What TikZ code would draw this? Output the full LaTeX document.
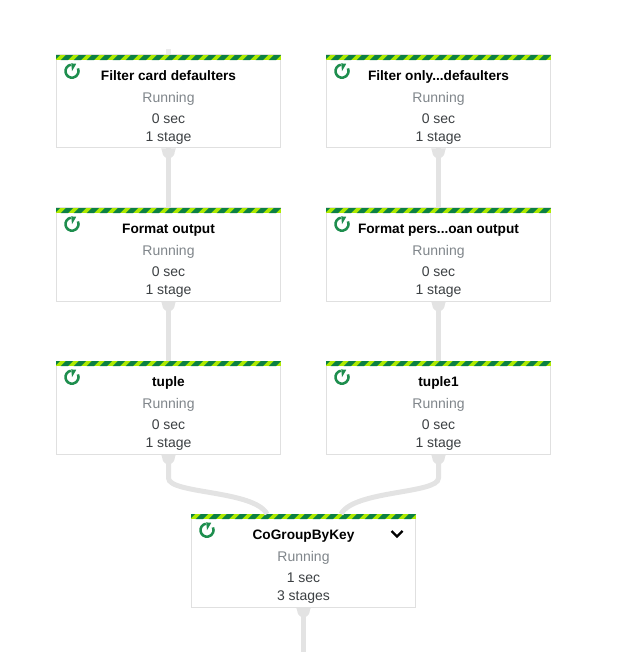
\documentclass[tikz,border=0pt]{standalone}
\usepackage{fontspec}
\setmainfont{Liberation Sans}
\definecolor{stripedark}{HTML}{0B8043}
\definecolor{stripelime}{HTML}{AEEA00}
\definecolor{edgegray}{HTML}{E3E3E3}
\definecolor{boxline}{HTML}{E0E0E0}
\definecolor{iconring}{HTML}{1E8E4E}
\definecolor{statusgray}{HTML}{80868B}
\definecolor{detailgray}{HTML}{3C4043}
\tikzset{
  stagebox/.style={draw=boxline,line width=0.75pt,fill=white,inner sep=0pt,minimum width=168pt,minimum height=69.75pt},
  titletext/.style={anchor=base,font=\fontsize{10.25}{12}\selectfont\bfseries,text=black},
  statustext/.style={anchor=base,font=\fontsize{10.5}{12}\selectfont,text=statusgray},
  detailtext/.style={anchor=base,font=\fontsize{10.5}{12}\selectfont,text=detailgray},
  edgeline/.style={draw=edgegray,line width=3.75pt},
}
% one stage: name, position, title, time, stages
\newcommand{\stagenode}[5]{
  \node[stagebox] (#1) at (#2) {};
  % flare under the box
  \fill[edgegray] ([xshift=-5.5pt]#1.south) .. controls +(1.5pt,-3pt) and +(-3.5pt,2pt) .. ([xshift=-1.875pt,yshift=-7pt]#1.south)
    -- ([xshift=1.875pt,yshift=-7pt]#1.south) .. controls +(3.5pt,2pt) and +(-1.5pt,-3pt) .. ([xshift=5.5pt]#1.south) -- cycle;
  % hazard stripes along the top
  \begin{scope}
    \clip ([yshift=-0.4pt]#1.north west) rectangle ([yshift=-4.2pt]#1.north east);
    \fill[stripelime] ([yshift=-0.4pt]#1.north west) rectangle ([yshift=-4.2pt]#1.north east);
    \foreach \s in {0,...,18}
      \fill[stripedark] ([xshift=\s*9.75pt-2pt]#1.north west) -- ++(5.4pt,0) -- ++(-4.2pt,-4.2pt) -- ++(-5.4pt,0) -- cycle;
  \end{scope}
  % running icon
  \draw[iconring,line width=1.9pt] ([xshift=12pt,yshift=-12.5pt]#1.north west) ++(100:4.9pt) arc[start angle=100,end angle=385,radius=4.9pt];
  \fill[iconring] ([xshift=12pt,yshift=-12.5pt]#1.north west) -- ++(60:6.4pt) -- ++(-3.8pt,0.3pt) -- cycle;
  % texts
  \node[titletext] (#1title) at ([yshift=-19.25pt]#1.north) {#3};
  \node[statustext] (#1status) at ([yshift=-35.75pt]#1.north) {Running};
  \node[detailtext] (#1time) at ([yshift=-51.5pt]#1.north) {#4};
  \node[detailtext] (#1stages) at ([yshift=-65pt]#1.north) {#5};
}

\begin{document}
\begin{tikzpicture}[x=0.75pt,y=-0.75pt]
\useasboundingbox (0,0) rectangle (624,652);

% left column
\stagenode{filtercard}{168.5,101.5}{Filter card defaulters}{0 sec}{1 stage}
\stagenode{formatoutput}{168.5,254.5}{Format output}{0 sec}{1 stage}
\stagenode{tuple}{168.5,407.5}{tuple}{0 sec}{1 stage}

% right column
\stagenode{filteronly}{438.5,101.5}{Filter only...defaulters}{0 sec}{1 stage}
\stagenode{formatpers}{438.5,254.5}{Format pers...oan output}{0 sec}{1 stage}
\stagenode{tupleone}{438.5,407.5}{tuple1}{0 sec}{1 stage}

% join
\stagenode{cogroup}{303.5,560.5}{CoGroupByKey}{1 sec}{3 stages}

% chevron on the join
\coordinate (chevleft) at (391.5,531);
\coordinate (chevmid) at (397,536.5);
\coordinate (chevright) at (402.5,531);
\draw[black,line width=1.7pt] (chevleft) -- (chevmid) -- (chevright);

% loose ends
\coordinate (topstub) at (168.5,49);
\coordinate (bottomstub) at (303.5,652);
\coordinate (joinleft) at (267,514);
\coordinate (joinright) at (341,514);

% connectors
\draw[edgeline,edgegray!70] (topstub) -- (filtercard.north);
\draw[edgeline] (filtercard.south) -- (formatoutput.north);
\draw[edgeline] (formatoutput.south) -- (tuple.north);
\draw[edgeline] (filteronly.south) -- (formatpers.north);
\draw[edgeline] (formatpers.south) -- (tupleone.north);
\draw[edgeline] (tuple.south) -- (168.5,478) .. controls (168.5,494) and (254,490) .. (joinleft);
\draw[edgeline] (tupleone.south) -- (438.5,478) .. controls (438.5,494) and (354,490) .. (joinright);
\draw[edgeline] (cogroup.south) -- (bottomstub);

\end{tikzpicture}
\end{document}
